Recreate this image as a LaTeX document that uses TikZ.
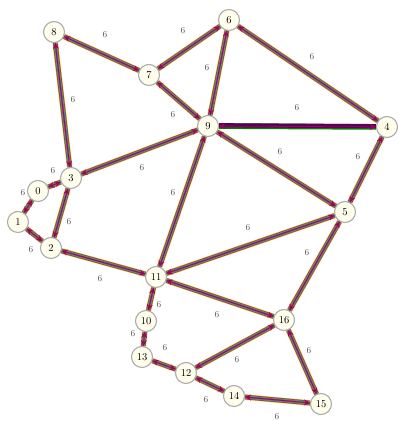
\documentclass[tikz,border=0pt]{standalone}
\usetikzlibrary{arrows.meta}
\begin{document}
\begin{tikzpicture}[x=1pt,y=-1pt,
  vtx/.style={circle,draw=gray!65,line width=1.1pt,fill=yellow!7,minimum size=21pt,inner sep=0pt,font=\fontsize{10.5}{10.5}\selectfont},
  wt/.style={font=\fontsize{9}{9}\selectfont,text=black!70},
  bund/.style={line width=5.6pt,draw=yellow!55!orange,
    postaction={draw=violet!55!gray,line width=4.6pt},
    postaction={draw=green!45!gray,line width=3.2pt},
    postaction={draw=gray!70!violet,line width=2.2pt},
    postaction={draw=purple!55!violet,line width=0.8pt,{Stealth[length=6pt,width=6pt]}-{Stealth[length=6pt,width=6pt]}}},
  bundb/.style={line width=5.6pt,draw=green!50!black,
    postaction={draw=violet!70!black,line width=4.2pt,transform canvas={yshift=0.8pt}},
    postaction={draw=purple!55!violet,line width=0.8pt,{Stealth[length=6pt,width=6pt]}-{Stealth[length=6pt,width=6pt]}}}]
\useasboundingbox (0,0) rectangle (397,421);
\node[vtx] (n0) at (38,191) {0};
\node[vtx] (n1) at (18,222) {1};
\node[vtx] (n2) at (51,248) {2};
\node[vtx] (n3) at (71,178) {3};
\node[vtx] (n4) at (387,127) {4};
\node[vtx] (n5) at (345,212) {5};
\node[vtx] (n6) at (229,20) {6};
\node[vtx] (n7) at (149,75) {7};
\node[vtx] (n8) at (54,32) {8};
\node[vtx] (n9) at (208,126) {9};
\node[vtx] (n10) at (146,321) {10};
\node[vtx] (n11) at (156,277) {11};
\node[vtx] (n12) at (186,373) {12};
\node[vtx] (n13) at (142,357) {13};
\node[vtx] (n14) at (234,396) {14};
\node[vtx] (n15) at (321,404) {15};
\node[vtx] (n16) at (284,320) {16};
\foreach \a/\b in {n8/n7,n7/n6,n6/n9,n7/n9,n6/n4,n8/n3,n9/n3,n9/n5,n4/n5,n9/n11,n3/n0,n0/n1,n1/n2,n2/n3,n2/n11,n11/n5,n5/n16,n11/n16,n11/n10,n10/n13,n13/n12,n12/n16,n12/n14,n14/n15,n16/n15}
  \draw[bund] (\a) -- (\b);
\draw[bundb] (n9) -- (n4);
\foreach \p in {(105,35),(183,31),(207,68),(173,115),(312,57),(297,108),(73,100),(142,168),(280,152),(358,157),(173,193),(53,171),(23,193),(69,222),(31,250),(100,279),(248,228),(307,253),(217,315),(159,305),(133,334),(165,348),(237,360),(206,400),(277,417),(309,351)}
  \node[wt] at \p {6};
\end{tikzpicture}
\end{document}
